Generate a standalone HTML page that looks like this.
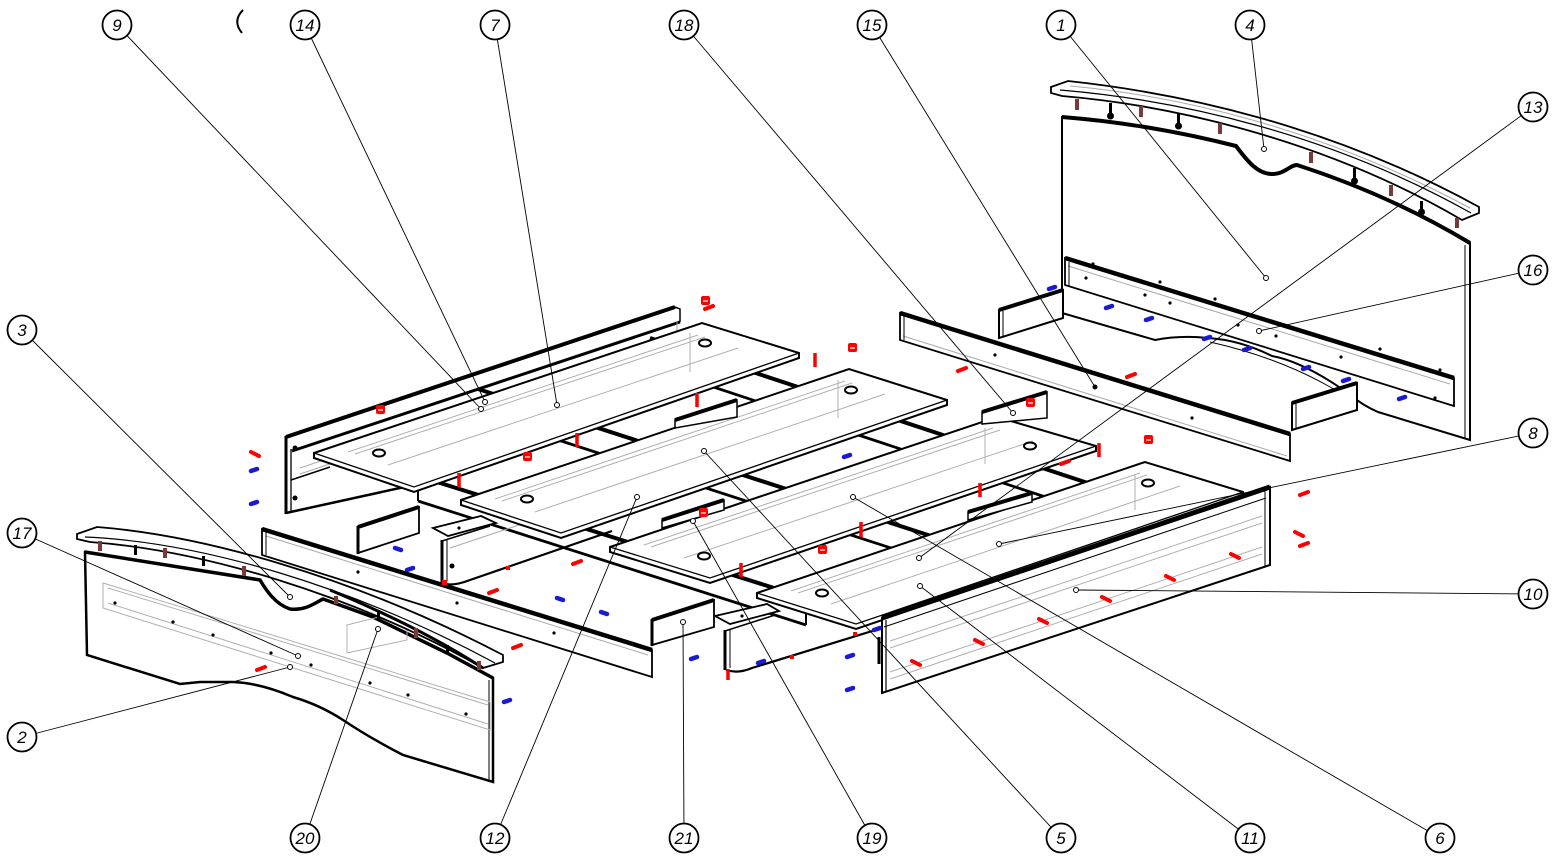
<!DOCTYPE html>
<html><head><meta charset="utf-8"><style>
html,body{margin:0;padding:0;background:#fff;}
svg{display:block;}
.b text{font-family:"Liberation Sans",sans-serif;font-style:italic;font-size:17px;fill:#000;}
</style></head><body>
<svg width="1555" height="864" viewBox="0 0 1555 864" xmlns="http://www.w3.org/2000/svg">
<rect width="1555" height="864" fill="#fff"/>
<path d="M243,10 Q232,21 242,33" fill="none" stroke="#000" stroke-width="2"/>

<!-- HEADBOARD (1) -->
<path d="M1062,117 Q1150,124 1236,146 C1248,162 1258,174 1272,174 C1285,174 1290,165 1297,165 Q1390,195 1470,243 L1470,440 L1378,412 Q1362,405 1352,396 Q1305,362 1272,356 Q1240,340 1208,338 Q1180,335 1155,340 L1062,313 Z" fill="#fff" stroke="#000" stroke-width="2"/>
<path d="M1062,117 Q1150,124 1236,146 C1248,162 1258,174 1272,174 C1285,174 1290,165 1297,165 Q1390,195 1470,243" fill="none" stroke="#000" stroke-width="4"/>
<line x1="1465" y1="245" x2="1465" y2="438" stroke="#000" stroke-width="1"/>
<path d="M1210,342 Q1290,360 1350,399" fill="none" stroke="#000" stroke-width="1"/>
<!-- CROWN (4) -->
<path d="M1051,87 L1068,81 C1180,93 1330,125 1479,207 L1479,213 L1462,220 C1330,143 1180,106 1062,96 L1051,93 Z" fill="#fff" stroke="#000" stroke-width="1.8"/>
<path d="M1060,90 C1180,100 1330,134 1471,213" fill="none" stroke="#000" stroke-width="1.2"/>
<path d="M1070,86 C1180,96 1320,128 1470,208" fill="none" stroke="#aaa" stroke-width="1"/>
<g stroke="#7a3a3a" stroke-width="4">
<line x1="1077" y1="99" x2="1077" y2="110"/><line x1="1141" y1="106" x2="1141" y2="117"/>
<line x1="1220" y1="123" x2="1220" y2="134"/><line x1="1311" y1="152" x2="1311" y2="163"/>
<line x1="1391" y1="185" x2="1391" y2="196"/><line x1="1457" y1="218" x2="1457" y2="228"/>
</g>
<g fill="#000">
<rect x="1109" y="103" width="3" height="12"/><circle cx="1110.5" cy="116" r="3.5"/>
<rect x="1177" y="114" width="3" height="12"/><circle cx="1178.5" cy="126" r="3.5"/>
<rect x="1353" y="168" width="3" height="12"/><circle cx="1354.5" cy="181" r="3.5"/>
<rect x="1420" y="201" width="3" height="11"/><circle cx="1421.5" cy="212" r="3.5"/>
</g>
<!-- RAIL 16 -->
<polygon points="1065,258 1454,378 1454,406 1065,285" fill="#fff" stroke="#000" stroke-width="1.8"/>
<line x1="1065" y1="258" x2="1454" y2="378" stroke="#000" stroke-width="4.5"/>
<line x1="1068" y1="266" x2="1450" y2="384" stroke="#aaa" stroke-width="1"/>
<line x1="1069" y1="262" x2="1069" y2="286" stroke="#000" stroke-width="1"/>
<!-- blocks near headboard -->
<polygon points="999,310 1063,290 1063,318 999,338" fill="#fff" stroke="#000" stroke-width="2"/>
<line x1="999" y1="310" x2="1063" y2="290" stroke="#000" stroke-width="4"/>
<line x1="1003" y1="311" x2="1003" y2="337" stroke="#000" stroke-width="1"/>
<polygon points="1292,403 1357,383 1357,410 1292,430" fill="#fff" stroke="#000" stroke-width="2"/>
<line x1="1292" y1="403" x2="1357" y2="383" stroke="#000" stroke-width="4"/>
<line x1="1296" y1="404" x2="1296" y2="429" stroke="#000" stroke-width="1"/>
<!-- SIDE RAIL 15 -->
<polygon points="900,313 1290,434 1290,461 900,340" fill="#fff" stroke="#000" stroke-width="1.8"/>
<line x1="900" y1="313" x2="1290" y2="434" stroke="#000" stroke-width="4.5"/>
<line x1="903" y1="336" x2="1287" y2="456" stroke="#aaa" stroke-width="1"/>
<line x1="904" y1="316" x2="904" y2="340" stroke="#000" stroke-width="1"/>

<!-- UPPER LEFT SIDE PANEL -->
<polygon points="286,437 675,307 680,322 680,385 418,484 287,513" fill="#fff"/>
<line x1="286" y1="437" x2="675" y2="307" stroke="#000" stroke-width="4"/>
<line x1="292" y1="451" x2="680" y2="322" stroke="#000" stroke-width="3"/>
<polyline points="675,307 680,309 680,322" fill="none" stroke="#000" stroke-width="1.5"/>
<line x1="286" y1="436" x2="286" y2="514" stroke="#000" stroke-width="3"/>
<line x1="291" y1="449" x2="291" y2="513" stroke="#000" stroke-width="1.3"/>
<line x1="286" y1="513" x2="418" y2="484" stroke="#000" stroke-width="2.5"/>
<line x1="291" y1="480" x2="330" y2="467" stroke="#000" stroke-width="1.5"/>
<line x1="677" y1="322" x2="677" y2="385" stroke="#aaa" stroke-width="1"/>
<line x1="300" y1="468" x2="672" y2="343" stroke="#aaa" stroke-width="1"/>
<line x1="300" y1="474" x2="672" y2="349" stroke="#aaa" stroke-width="1"/>

<!-- SLATS (under boards) -->
<g stroke="#000">
<line x1="418" y1="476" x2="806" y2="598" stroke-width="4"/>
<line x1="418" y1="501" x2="806" y2="625" stroke-width="2.8"/>
<line x1="418" y1="476" x2="418" y2="501" stroke-width="2"/>
<line x1="806" y1="598" x2="806" y2="625" stroke-width="2"/>
<line x1="478" y1="389" x2="968" y2="548" stroke-width="4"/>
<line x1="478" y1="414" x2="968" y2="573" stroke-width="2.8"/>
<line x1="650" y1="338" x2="1130" y2="497" stroke-width="4"/>
<line x1="650" y1="366" x2="1130" y2="525" stroke-width="2.8"/>
</g>
<!-- under-box gray lines -->
<g stroke="#aaa" stroke-width="1">
<line x1="680" y1="430" x2="830" y2="380"/><line x1="680" y1="445" x2="830" y2="395"/>
<line x1="667" y1="530" x2="820" y2="478"/><line x1="667" y1="545" x2="820" y2="493"/>
<line x1="972" y1="522" x2="1130" y2="470"/><line x1="972" y1="537" x2="1130" y2="485"/>
<line x1="450" y1="548" x2="600" y2="498"/>
</g>

<!-- BOARDS -->
<g stroke="#000">
<polygon points="314,453 702,323 799,353 799,358 414,492 314,458" fill="#fff" stroke-width="2"/>
<polyline points="314,453 414,487 799,353" fill="none" stroke-width="1.3"/>
<polygon points="461,500 849,369 947,400 947,405 561,538 461,505" fill="#fff" stroke-width="2"/>
<polyline points="461,500 561,533 947,400" fill="none" stroke-width="1.3"/>
<polygon points="610,547 997,417 1096,446 1096,451 710,583 610,552" fill="#fff" stroke-width="2"/>
<polyline points="610,547 710,578 1096,446" fill="none" stroke-width="1.3"/>
<polygon points="757,593 1145,462 1243,492 1243,497 856,629 757,598" fill="#fff" stroke-width="2"/>
<polyline points="757,593 856,624 1243,492" fill="none" stroke-width="1.3"/>
</g>
<g stroke="#b0b0b0" stroke-width="1">
<line x1="348" y1="452" x2="698" y2="335"/><line x1="355" y1="454" x2="705" y2="337"/><line x1="388" y1="465" x2="738" y2="348"/>
<line x1="495" y1="499" x2="845" y2="381"/><line x1="502" y1="501" x2="852" y2="383"/><line x1="535" y1="512" x2="885" y2="394"/>
<line x1="644" y1="545" x2="993" y2="428"/><line x1="651" y1="547" x2="1000" y2="430"/><line x1="684" y1="558" x2="1033" y2="441"/>
<line x1="791" y1="591" x2="1140" y2="473"/><line x1="798" y1="593" x2="1147" y2="475"/><line x1="831" y1="604" x2="1180" y2="486"/>
<line x1="690" y1="333" x2="690" y2="372"/><line x1="838" y1="380" x2="838" y2="418"/>
<line x1="985" y1="428" x2="985" y2="464"/><line x1="1135" y1="475" x2="1135" y2="510"/>
</g>
<g fill="#fff" stroke="#000" stroke-width="2">
<ellipse cx="379" cy="453" rx="6" ry="3.5"/><ellipse cx="705" cy="343" rx="6" ry="3.5"/>
<ellipse cx="527" cy="499" rx="6" ry="3.5"/><ellipse cx="851" cy="390" rx="6" ry="3.5"/>
<ellipse cx="704" cy="556" rx="6" ry="3.5"/><ellipse cx="1030" cy="446" rx="6" ry="3.5"/>
<ellipse cx="822" cy="593" rx="6" ry="3.5"/><ellipse cx="1148" cy="483" rx="6" ry="3.5"/>
</g>

<!-- small end plates -->
<g fill="#fff" stroke="#000" stroke-width="1.5">
<polygon points="675,420 737,400 737,417 675,428"/>
<polygon points="662,520 724,500 724,510 662,528"/>
<polygon points="968,512 1032,493 1032,502 968,520"/>
<polygon points="982,412 1047,392 1047,418 982,424"/>
</g>
<g stroke="#000" stroke-width="4">
<line x1="675" y1="420" x2="737" y2="400"/><line x1="662" y1="520" x2="724" y2="500"/>
<line x1="968" y1="512" x2="1032" y2="493"/><line x1="982" y1="412" x2="1047" y2="392"/>
</g>

<!-- LOWER LEFT BOX -->
<polygon points="433,528 481,516 496,523 448,536" fill="#fff" stroke="#000" stroke-width="1.8"/>
<line x1="442" y1="540" x2="442" y2="583" stroke="#000" stroke-width="3"/>
<line x1="447" y1="540" x2="447" y2="581" stroke="#000" stroke-width="1"/>
<line x1="442" y1="541" x2="490" y2="526" stroke="#000" stroke-width="1.5"/>
<path d="M442,583 Q452,587 470,580 L612,531" fill="none" stroke="#000" stroke-width="2.2"/>
<!-- LOWER RIGHT BOX -->
<polygon points="715,616 767,604 779,611 730,624" fill="#fff" stroke="#000" stroke-width="1.8"/>
<line x1="725" y1="630" x2="725" y2="670" stroke="#000" stroke-width="3"/>
<line x1="730" y1="630" x2="730" y2="668" stroke="#000" stroke-width="1"/>
<line x1="725" y1="631" x2="775" y2="615" stroke="#000" stroke-width="1.5"/>
<path d="M726,670 Q738,674 752,668 L882,628" fill="none" stroke="#000" stroke-width="2.2"/>

<!-- FRONT BOARD 10 -->
<polygon points="882,618 1270,487 1270,565 882,693" fill="#fff" stroke="#000" stroke-width="2"/>
<line x1="882" y1="618" x2="1270" y2="487" stroke="#000" stroke-width="5"/>
<line x1="884" y1="627" x2="1266" y2="498" stroke="#000" stroke-width="1"/>
<line x1="1265" y1="489" x2="1265" y2="567" stroke="#000" stroke-width="1"/>
<line x1="886" y1="620" x2="886" y2="692" stroke="#000" stroke-width="1.2"/>
<line x1="879" y1="637" x2="879" y2="664" stroke="#000" stroke-width="3"/>
<g stroke="#b0b0b0" stroke-width="1">
<line x1="890" y1="641" x2="1262" y2="516"/><line x1="890" y1="648" x2="1262" y2="523"/>
<line x1="890" y1="672" x2="1262" y2="547"/><line x1="890" y1="679" x2="1262" y2="554"/>
</g>

<!-- FOOTBOARD RAIL -->
<polygon points="262,529 652,650 652,677 262,555" fill="#fff" stroke="#000" stroke-width="1.8"/>
<line x1="262" y1="529" x2="652" y2="650" stroke="#000" stroke-width="4.5"/>
<line x1="266" y1="536" x2="648" y2="655" stroke="#aaa" stroke-width="1"/>
<line x1="266" y1="531" x2="266" y2="555" stroke="#000" stroke-width="1"/>
<!-- BLOCKS -->
<polygon points="358,527 419,507 419,533 358,553" fill="#fff" stroke="#000" stroke-width="1.8"/>
<line x1="358" y1="527" x2="419" y2="507" stroke="#000" stroke-width="4"/>
<line x1="358" y1="526" x2="358" y2="554" stroke="#000" stroke-width="3"/>
<polygon points="652,620 714,600 714,627 652,645" fill="#fff" stroke="#000" stroke-width="1.8"/>
<line x1="652" y1="620" x2="714" y2="600" stroke="#000" stroke-width="4"/>
<line x1="652" y1="619" x2="652" y2="646" stroke="#000" stroke-width="3"/>

<!-- FOOTBOARD (2) -->
<path d="M85,552 L260,580 C266,590 275,604 290,609 C305,611 315,603 323,599 L373,617 L447,653 L493,678 L493,782 L403,755 Q370,738 343,720 Q320,705 293,697 Q260,683 233,682 L200,682 Q190,683 180,684 L87,655 Z" fill="#fff" stroke="#000" stroke-width="2.5"/>
<path d="M85,552 L260,580 C266,590 275,604 290,609 C305,611 315,603 323,599 L373,617 L447,653 L493,678" fill="none" stroke="#000" stroke-width="3.5"/>
<line x1="489" y1="680" x2="489" y2="781" stroke="#000" stroke-width="1"/>
<g stroke="#b0b0b0" stroke-width="1" fill="none">
<polygon points="103,583 490,702 490,730 103,608"/>
<line x1="108" y1="588" x2="488" y2="705"/>
<line x1="108" y1="603" x2="488" y2="724"/>
<polygon points="347,625 407,610 407,640 347,653"/>
</g>
<!-- CROWN (3) -->
<path d="M77,534 L97,527 C200,535 350,575 503,655 L503,662 L483,668 C350,593 200,550 90,542 L77,539 Z" fill="#fff" stroke="#000" stroke-width="1.8"/>
<path d="M85,537 C200,542 350,585 495,663" fill="none" stroke="#000" stroke-width="1.2"/>
<path d="M330,590 C390,615 440,640 483,668" fill="none" stroke="#000" stroke-width="3"/>
<g stroke="#7a3a3a" stroke-width="4">
<line x1="100" y1="541" x2="100" y2="551"/><line x1="165" y1="548" x2="165" y2="558"/>
<line x1="244" y1="566" x2="244" y2="576"/><line x1="336" y1="596" x2="336" y2="604"/>
<line x1="416" y1="628" x2="416" y2="638"/><line x1="479" y1="661" x2="479" y2="670"/>
</g>
<g fill="#000">
<rect x="134" y="545" width="3" height="10"/><rect x="202" y="556" width="3" height="10"/>
<rect x="377" y="610" width="3" height="9"/><rect x="446" y="645" width="3" height="9"/>
</g>

<!-- small dots -->
<g fill="#000">
<circle cx="115" cy="603" r="1.6"/><circle cx="173" cy="622" r="1.6"/><circle cx="213" cy="635" r="1.6"/>
<circle cx="271" cy="653" r="1.6"/><circle cx="311" cy="665" r="1.6"/><circle cx="370" cy="683" r="1.6"/>
<circle cx="408" cy="695" r="1.6"/><circle cx="466" cy="714" r="1.6"/>
<circle cx="358" cy="572" r="1.6"/><circle cx="457" cy="603" r="1.6"/><circle cx="554" cy="633" r="1.6"/>
<circle cx="995" cy="355" r="1.6"/><circle cx="1095" cy="387" r="2.5"/><circle cx="1192" cy="418" r="1.6"/>
<circle cx="1086" cy="278" r="1.6"/><circle cx="1145" cy="295" r="1.6"/><circle cx="1170" cy="303" r="1.6"/>
<circle cx="1238" cy="325" r="1.6"/><circle cx="1276" cy="336" r="1.6"/><circle cx="1341" cy="357" r="1.6"/>
<circle cx="1380" cy="349" r="1.6"/><circle cx="1440" cy="370" r="1.6"/><circle cx="1435" cy="398" r="1.6"/>
<circle cx="1093" cy="264" r="1.6"/><circle cx="1160" cy="282" r="1.6"/><circle cx="1215" cy="299" r="1.6"/>
<circle cx="295" cy="448" r="2.5"/><circle cx="295" cy="498" r="2.5"/><circle cx="452" cy="566" r="2.5"/>
<circle cx="459" cy="528" r="1.6"/><circle cx="742" cy="616" r="1.6"/>
</g>

<!-- RED marks -->
<g stroke="#f00" stroke-width="4" stroke-linecap="round">
<line x1="251" y1="452" x2="259" y2="456"/><line x1="573" y1="564" x2="581" y2="561"/>
<line x1="489" y1="593" x2="497" y2="590"/><line x1="513" y1="648" x2="521" y2="645"/>
<line x1="257" y1="670" x2="265" y2="667"/><line x1="958" y1="371" x2="966" y2="368"/>
<line x1="1127" y1="377" x2="1135" y2="374"/><line x1="1300" y1="495" x2="1308" y2="492"/>
<line x1="1295" y1="532" x2="1303" y2="536"/><line x1="1300" y1="546" x2="1308" y2="543"/>
<line x1="1231" y1="554" x2="1239" y2="558"/><line x1="1166" y1="576" x2="1174" y2="580"/>
<line x1="1102" y1="597" x2="1110" y2="601"/><line x1="1039" y1="619" x2="1047" y2="623"/>
<line x1="975" y1="640" x2="983" y2="644"/><line x1="912" y1="661" x2="920" y2="665"/>
<line x1="705" y1="309" x2="713" y2="306"/><line x1="1061" y1="464" x2="1069" y2="461"/>
</g>
<g stroke="#f00" stroke-width="3.5">
<line x1="459" y1="473" x2="459" y2="487"/><line x1="577" y1="433" x2="577" y2="447"/>
<line x1="697" y1="393" x2="697" y2="407"/><line x1="815" y1="353" x2="815" y2="367"/>
<line x1="741" y1="563" x2="741" y2="577"/><line x1="861" y1="522" x2="861" y2="537"/>
<line x1="980" y1="483" x2="980" y2="497"/><line x1="1099" y1="443" x2="1099" y2="457"/>
<line x1="728" y1="669" x2="728" y2="680"/>
</g>
<g fill="#f00">
<rect x="376" y="405" width="9" height="9" rx="2"/><rect x="523" y="452" width="9" height="9" rx="2"/>
<rect x="701" y="296" width="9" height="9" rx="2"/><rect x="848" y="343" width="9" height="9" rx="2"/>
<rect x="699" y="508" width="9" height="9" rx="2"/><rect x="818" y="545" width="9" height="9" rx="2"/>
<rect x="1026" y="398" width="9" height="9" rx="2"/><rect x="1144" y="435" width="9" height="9" rx="2"/>
<rect x="442" y="580" width="5" height="5"/><rect x="853" y="632" width="4" height="4"/>
<rect x="790" y="655" width="4" height="4"/><rect x="506" y="566" width="4" height="4"/>
</g>
<g stroke="#fff" stroke-width="1.2">
<line x1="378" y1="410" x2="383" y2="410"/><line x1="525" y1="457" x2="530" y2="457"/>
<line x1="703" y1="301" x2="708" y2="301"/><line x1="850" y1="348" x2="855" y2="348"/>
<line x1="701" y1="513" x2="706" y2="513"/><line x1="820" y1="550" x2="825" y2="550"/>
<line x1="1028" y1="403" x2="1033" y2="403"/><line x1="1146" y1="440" x2="1151" y2="440"/>
</g>
<!-- BLUE marks -->
<g stroke="#1a1ad0" stroke-width="4.5" stroke-linecap="round">
<line x1="251" y1="471" x2="257" y2="469"/><line x1="251" y1="504" x2="257" y2="502"/>
<line x1="395" y1="548" x2="401" y2="550"/><line x1="407" y1="570" x2="413" y2="568"/>
<line x1="557" y1="598" x2="563" y2="600"/><line x1="601" y1="612" x2="607" y2="614"/>
<line x1="691" y1="659" x2="697" y2="657"/><line x1="758" y1="663" x2="764" y2="661"/>
<line x1="844" y1="457" x2="850" y2="455"/><line x1="847" y1="657" x2="853" y2="655"/>
<line x1="847" y1="690" x2="853" y2="688"/><line x1="874" y1="630" x2="880" y2="628"/>
<line x1="504" y1="702" x2="510" y2="700"/><line x1="1049" y1="289" x2="1055" y2="287"/>
<line x1="1106" y1="308" x2="1112" y2="306"/><line x1="1146" y1="320" x2="1152" y2="318"/>
<line x1="1204" y1="339" x2="1210" y2="337"/><line x1="1244" y1="350" x2="1250" y2="348"/>
<line x1="1303" y1="369" x2="1309" y2="367"/><line x1="1343" y1="381" x2="1349" y2="379"/>
<line x1="1399" y1="399" x2="1405" y2="397"/>
</g>

<!-- LEADERS -->
<g stroke="#000" stroke-width="0.9">
<line x1="117" y1="25" x2="481" y2="409"/>
<line x1="305" y1="25" x2="485" y2="402"/>
<line x1="495" y1="25" x2="557" y2="405"/>
<line x1="684" y1="25" x2="1013" y2="413"/>
<line x1="872" y1="25" x2="1095" y2="387"/>
<line x1="1061" y1="25" x2="1266" y2="278"/>
<line x1="1250" y1="25" x2="1264" y2="149"/>
<line x1="1533" y1="107" x2="919" y2="558"/>
<line x1="1533" y1="270" x2="1259" y2="331"/>
<line x1="1533" y1="433" x2="999" y2="544"/>
<line x1="1533" y1="594" x2="1076" y2="590"/>
<line x1="22" y1="330" x2="290" y2="597"/>
<line x1="22" y1="533" x2="298" y2="656"/>
<line x1="22" y1="737" x2="290" y2="667"/>
<line x1="305" y1="838" x2="378" y2="629"/>
<line x1="495" y1="838" x2="637" y2="497"/>
<line x1="684" y1="838" x2="683" y2="622"/>
<line x1="872" y1="838" x2="693" y2="521"/>
<line x1="1061" y1="838" x2="704" y2="451"/>
<line x1="1250" y1="838" x2="920" y2="586"/>
<line x1="1440" y1="838" x2="853" y2="497"/>
</g>
<g fill="#fff" stroke="#000" stroke-width="1">
<circle cx="481" cy="409" r="2.5"/><circle cx="485" cy="402" r="2.5"/><circle cx="557" cy="405" r="2.5"/>
<circle cx="1013" cy="413" r="2.5"/><circle cx="1266" cy="278" r="2.5"/><circle cx="1264" cy="149" r="2.5"/>
<circle cx="919" cy="558" r="2.5"/><circle cx="1259" cy="331" r="2.5"/><circle cx="999" cy="544" r="2.5"/>
<circle cx="1076" cy="590" r="2.5"/><circle cx="290" cy="597" r="2.5"/><circle cx="298" cy="656" r="2.5"/>
<circle cx="290" cy="667" r="2.5"/><circle cx="378" cy="629" r="2.5"/><circle cx="637" cy="497" r="2.5"/>
<circle cx="683" cy="622" r="2.5"/><circle cx="693" cy="521" r="2.5"/><circle cx="704" cy="451" r="2.5"/>
<circle cx="920" cy="586" r="2.5"/><circle cx="853" cy="497" r="2.5"/>
</g>

<!-- BALLOONS -->
<g class="b" text-anchor="middle">
<g fill="#fff" stroke="#000" stroke-width="1.8">
<circle cx="117" cy="25" r="14.5"/><circle cx="305" cy="25" r="14.5"/><circle cx="495" cy="25" r="14.5"/>
<circle cx="684" cy="25" r="14.5"/><circle cx="872" cy="25" r="14.5"/><circle cx="1061" cy="25" r="14.5"/>
<circle cx="1250" cy="25" r="14.5"/><circle cx="1533" cy="107" r="14.5"/><circle cx="1533" cy="270" r="14.5"/>
<circle cx="1533" cy="433" r="14.5"/><circle cx="1533" cy="594" r="14.5"/><circle cx="22" cy="330" r="14.5"/>
<circle cx="22" cy="533" r="14.5"/><circle cx="22" cy="737" r="14.5"/><circle cx="305" cy="838" r="14.5"/>
<circle cx="495" cy="838" r="14.5"/><circle cx="684" cy="838" r="14.5"/><circle cx="872" cy="838" r="14.5"/>
<circle cx="1061" cy="838" r="14.5"/><circle cx="1250" cy="838" r="14.5"/><circle cx="1440" cy="838" r="14.5"/>
</g>
<text x="117" y="31">9</text><text x="305" y="31">14</text><text x="495" y="31">7</text>
<text x="684" y="31">18</text><text x="872" y="31">15</text><text x="1061" y="31">1</text>
<text x="1250" y="31">4</text><text x="1533" y="113">13</text><text x="1533" y="276">16</text>
<text x="1533" y="439">8</text><text x="1533" y="600">10</text><text x="22" y="336">3</text>
<text x="22" y="539">17</text><text x="22" y="743">2</text><text x="305" y="844">20</text>
<text x="495" y="844">12</text><text x="684" y="844">21</text><text x="872" y="844">19</text>
<text x="1061" y="844">5</text><text x="1250" y="844">11</text><text x="1440" y="844">6</text>
</g>
</svg>
</body></html>
